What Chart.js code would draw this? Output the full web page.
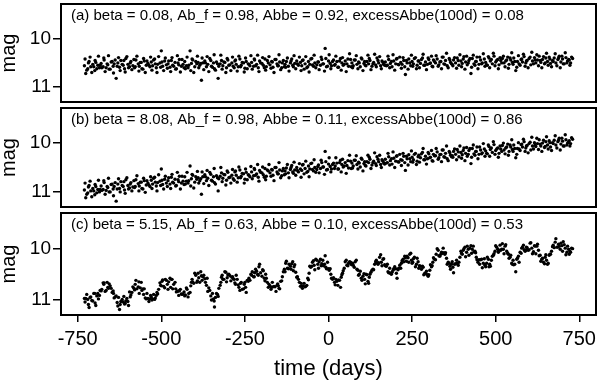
<!DOCTYPE html>
<html>
<head>
<meta charset="utf-8">
<script src="https://cdn.jsdelivr.net/npm/chart.js"></script>
<style>
  body { margin: 0; background: #fff; }
  #wrap { position: relative; width: 600px; height: 384px; }
  canvas { position: absolute; left: 0; }
</style>
</head>
<body>
<div id="wrap">
  <canvas id="pa" width="600" height="106" style="top:0px"></canvas>
  <canvas id="pb" width="600" height="107" style="top:104px"></canvas>
  <canvas id="pc" width="600" height="175" style="top:209px"></canvas>
</div>
<script>
// observation times (days), first run of nights
var days = [
-730,-726,-720,-716,-711,-705,-699,-696,-690,-685,
-680,-674,-671,-665,-660,-656,-650,-644,-641,-635,
-630,-625,-621,-614,-610,-606,-600,-595,-591,-585,
-580,-576,-569,-566,-560,-555,-551,-545,-540,-534,
-530,-526,-520,-515,-511,-504,-500,-496,-490,-485,
-480,-474,-470,-466,-459,-455,-450,-446,-440,-435,
-430,-425,-420,-414,-410,-406,-400,-394,-390,-385,
-380,-376,-370,-365,-361,-355,-350,-344,-341,-335,
-330,-324,-320,-316,-310,-305,-301,-295,-289,-285,
-280,-276,-270,-265,-261,-254,-250,-246,-240,-235,
-230,-224,-221,-215,-210,-206,-199,-195,-190,-186,
-180,-175,-170,-166,-160,-154,-150,-146,-140,-135,
-130,-126,-120,-114,-110,-105,-101,-95,-90,-84,
-80,-76,-70,-65,-60,-56,-50,-45,-41,-35,
-30,-24,-20,-15,-10,-6,0,5,9,15,
20,25,30,36,40,44,50,55,60,66,
70,74,80,85,90,95,100,106,110,115,
120,124,130,135,141,145,150,156,160,165,
170,176,180,185,190,195,201,205,210,216,
220,225,230,235,240,246,250,254,260,265,
270,275,281,285,290,296,300,305,310,314,
320,325,330,336,340,345,350,355,361,365,
370,374,380,385,390,396,400,405,410,415,
420,426,430,435,440,444,450,455,460,466,
470,475,480,484,490,495,500,506,510,515,
520,525,530,536,540,545,550,554,560,565,
570,576,580,585,590,594,600,605,610,616,
620,625,630,635,640,646,650,655,660,664,
670,675,680,686,690,695,700,705,710,715,
720,724,730];

// observation times (days), second run of nights
var days2 = [
-728,-723,-718,-713,-708,-702,-698,-693,-688,-683,
-678,-672,-668,-662,-658,-653,-647,-643,-638,-632,
-628,-623,-617,-612,-608,-603,-598,-593,-588,-582,
-578,-573,-567,-563,-558,-553,-548,-543,-537,-532,
-528,-523,-518,-513,-508,-502,-498,-493,-488,-482,
-478,-472,-468,-463,-457,-452,-448,-443,-438,-432,
-428,-423,-418,-412,-408,-403,-397,-392,-388,-382,
-378,-373,-368,-363,-358,-352,-347,-342,-338,-332,
-328,-322,-318,-313,-307,-303,-298,-292,-287,-282,
-278,-273,-268,-263,-258,-252,-248,-243,-238,-232,
-228,-222,-218,-212,-208,-203,-197,-192,-188,-183,
-178,-172,-168,-163,-157,-152,-148,-143,-138,-132,
-128,-123,-118,-112,-107,-103,-98,-93,-87,-82,
-78,-73,-68,-62,-58,-53,-48,-43,-38,-32,
-28,-22,-17,-12,-8,-3,2,7,12,18,
22,28,33,38,42,47,53,58,63,68,
72,77,83,88,92,98,103,108,112,118,
122,127,133,138,143,148,153,158,163,168,
173,178,183,188,193,198,203,208,213,218,
223,228,233,238,243,248,252,257,263,268,
272,278,283,288,293,298,303,308,312,317,
322,328,333,338,343,348,353,358,363,368,
372,377,383,388,393,398,403,408,413,418,
423,428,433,438,442,447,452,458,463,468,
473,478,482,487,493,498,503,508,513,518,
523,528,533,538,543,548,552,557,563,568,
573,578,583,588,592,597,603,608,613,618,
623,628,633,638,643,648,652,657,662,667,
672,678,683,688,693,698,702,708,713,718,
722,727];

// (a) flat light curve
var magA = [
10.56,10.72,10.62,10.47,10.58,10.53,10.66,10.49,10.55,10.6,
10.51,10.58,10.44,10.6,10.54,10.63,10.48,10.57,10.52,10.82,
10.5,10.59,10.45,10.55,10.62,10.41,10.53,10.58,10.47,10.56,
10.6,10.44,10.52,10.57,10.49,10.63,10.46,10.55,10.51,10.58,
10.48,10.56,10.42,10.6,10.53,10.5,10.25,10.57,10.46,10.54,
10.52,10.59,10.45,10.55,10.49,10.62,10.5,10.43,10.57,10.53,
10.47,10.56,10.6,10.25,10.51,10.44,10.58,10.52,10.49,10.55,
10.86,10.5,10.46,10.58,10.53,10.41,10.57,10.5,10.62,10.48,
10.82,10.52,10.45,10.56,10.49,10.6,10.44,10.54,10.5,10.57,
10.46,10.53,10.58,10.42,10.55,10.5,10.61,10.47,10.52,10.56,
10.49,10.57,10.44,10.53,10.6,10.46,10.51,10.55,10.42,10.58,
10.5,10.54,10.47,10.59,10.43,10.52,10.56,10.48,10.6,10.45,
10.53,10.47,10.57,10.5,10.42,10.58,10.51,10.46,10.55,10.49,
10.56,10.44,10.52,10.6,10.47,10.53,10.41,10.57,10.5,10.54,
10.48,10.55,10.43,10.52,10.2,10.58,10.46,10.51,10.56,10.44,
10.53,10.47,10.59,10.41,10.5,10.55,10.46,10.52,10.57,10.43,
10.5,10.56,10.44,10.53,10.48,10.58,10.42,10.51,10.55,10.47,
10.52,10.45,10.57,10.49,10.54,10.4,10.5,10.56,10.46,10.53,
10.48,10.55,10.43,10.51,10.58,10.46,10.52,10.41,10.54,10.49,
10.53,10.45,10.74,10.5,10.42,10.56,10.47,10.52,10.39,10.55,
10.46,10.51,10.4,10.55,10.48,10.53,10.43,10.5,10.57,10.44,
10.5,10.42,10.54,10.47,10.38,10.52,10.45,10.56,10.41,10.49,
10.53,10.44,10.5,10.4,10.55,10.46,10.51,10.37,10.48,10.54,
10.45,10.72,10.41,10.52,10.47,10.38,10.53,10.44,10.5,10.42,
10.49,10.55,10.4,10.46,10.52,10.36,10.48,10.43,10.54,10.45,
10.41,10.5,10.46,10.38,10.53,10.44,10.49,10.4,10.66,10.47,
10.52,10.43,10.48,10.37,10.5,10.45,10.41,10.54,10.46,10.39,
10.5,10.44,10.36,10.49,10.43,10.52,10.4,10.47,10.38,10.51,
10.45,10.4,10.5,10.43,10.36,10.48,10.42,10.52,10.39,10.46,
10.44,10.5,10.41];
var magA2 = [
10.42,10.65,10.5,10.38,10.7,10.58,10.45,10.62,10.36,10.55,
10.6,10.4,10.68,10.52,10.35,10.63,10.47,10.71,10.44,10.57,
10.39,10.66,10.53,10.45,10.69,10.37,10.6,10.5,10.64,10.43,
10.58,10.36,10.67,10.49,10.62,10.41,10.7,10.46,10.55,10.38,
10.65,10.44,10.52,10.7,10.37,10.59,10.48,10.66,10.4,10.61,
10.46,10.68,10.39,10.57,10.63,10.35,10.54,10.69,10.43,10.6,
10.62,10.38,10.55,10.66,10.42,10.7,10.47,10.36,10.6,10.51,
10.4,10.64,10.5,10.37,10.68,10.45,10.59,10.33,10.65,10.52,
10.57,10.34,10.63,10.48,10.7,10.41,10.55,10.66,10.38,10.6,
10.44,10.67,10.36,10.58,10.49,10.69,10.4,10.62,10.53,10.35,
10.63,10.42,10.56,10.34,10.68,10.5,10.39,10.6,10.65,10.45,
10.37,10.61,10.48,10.7,10.43,10.56,10.33,10.64,10.5,10.58,
10.59,10.4,10.67,10.46,10.55,10.35,10.62,10.52,10.38,10.66,
10.45,10.63,10.37,10.58,10.69,10.42,10.54,10.34,10.6,10.48,
10.64,10.38,10.52,10.67,10.41,10.57,10.33,10.62,10.47,10.55,
10.36,10.59,10.46,10.65,10.39,10.53,10.68,10.42,10.31,10.58,
10.6,10.44,10.35,10.62,10.5,10.4,10.66,10.47,10.56,10.34,
10.41,10.64,10.52,10.32,10.58,10.45,10.37,10.62,10.49,10.55,
10.56,10.36,10.6,10.47,10.33,10.65,10.42,10.53,10.38,10.61,
10.39,10.58,10.45,10.63,10.5,10.34,10.57,10.41,10.62,10.46,
10.6,10.43,10.32,10.55,10.64,10.4,10.51,10.36,10.58,10.47,
10.35,10.57,10.48,10.62,10.38,10.53,10.3,10.6,10.44,10.52,
10.56,10.39,10.61,10.45,10.33,10.58,10.42,10.63,10.36,10.5,
10.41,10.59,10.34,10.55,10.47,10.62,10.38,10.52,10.31,10.57,
10.54,10.37,10.6,10.43,10.3,10.56,10.45,10.62,10.39,10.5,
10.36,10.58,10.44,10.61,10.4,10.29,10.53,10.47,10.59,10.35,
10.55,10.42,10.32,10.57,10.46,10.6,10.38,10.28,10.52,10.44,
10.33,10.56,10.45,10.6,10.37,10.5,10.3,10.55,10.42,10.58,
10.47,10.31,10.56,10.4,10.6,10.36,10.52,10.29,10.5,10.43,
10.55,10.38];

// (b) steady brightening
var magB = [
10.96,11.12,11.02,10.87,10.98,10.93,11.06,10.89,10.95,11.0,
10.88,10.95,10.81,10.97,10.91,11.0,10.85,10.94,10.89,11.19,
10.84,10.93,10.79,10.89,10.96,10.75,10.87,10.92,10.81,10.9,
10.91,10.75,10.83,10.88,10.8,10.94,10.77,10.86,10.82,10.89,
10.76,10.84,10.7,10.88,10.81,10.78,10.53,10.85,10.74,10.82,
10.77,10.84,10.7,10.8,10.74,10.87,10.75,10.68,10.82,10.78,
10.69,10.78,10.82,10.47,10.73,10.66,10.8,10.74,10.71,10.77,
11.05,10.69,10.65,10.77,10.72,10.6,10.76,10.69,10.81,10.67,
10.98,10.68,10.61,10.72,10.65,10.76,10.6,10.7,10.66,10.73,
10.59,10.66,10.71,10.55,10.68,10.63,10.74,10.6,10.65,10.69,
10.59,10.67,10.54,10.63,10.7,10.56,10.61,10.65,10.52,10.68,
10.57,10.61,10.54,10.66,10.5,10.59,10.63,10.55,10.67,10.52,
10.57,10.51,10.61,10.54,10.46,10.62,10.55,10.5,10.59,10.53,
10.56,10.44,10.52,10.6,10.47,10.53,10.41,10.57,10.5,10.54,
10.45,10.52,10.4,10.49,10.17,10.55,10.43,10.48,10.53,10.41,
10.47,10.41,10.53,10.35,10.44,10.49,10.4,10.46,10.51,10.37,
10.41,10.47,10.35,10.44,10.39,10.49,10.33,10.42,10.46,10.38,
10.4,10.33,10.45,10.37,10.42,10.28,10.38,10.44,10.34,10.41,
10.33,10.4,10.28,10.36,10.43,10.31,10.37,10.26,10.39,10.34,
10.35,10.27,10.56,10.32,10.24,10.38,10.29,10.34,10.21,10.37,
10.25,10.3,10.19,10.34,10.27,10.32,10.22,10.29,10.36,10.23,
10.26,10.18,10.3,10.23,10.14,10.28,10.21,10.32,10.17,10.25,
10.26,10.17,10.23,10.13,10.28,10.19,10.24,10.1,10.21,10.27,
10.15,10.42,10.11,10.22,10.17,10.08,10.23,10.14,10.2,10.12,
10.16,10.22,10.07,10.13,10.19,10.03,10.15,10.1,10.21,10.12,
10.05,10.14,10.1,10.02,10.17,10.08,10.13,10.04,10.3,10.11,
10.12,10.03,10.08,9.97,10.1,10.05,10.01,10.14,10.06,9.99,
10.07,10.01,9.93,10.06,10.0,10.09,9.97,10.04,9.95,10.08,
9.99,9.94,10.04,9.97,9.9,10.02,9.96,10.06,9.93,10.0,
9.95,10.01,9.92];
var magB2 = [
10.82,11.05,10.9,10.78,11.1,10.98,10.85,11.02,10.76,10.95,
10.97,10.77,11.05,10.89,10.72,11.0,10.84,11.08,10.81,10.94,
10.73,11.0,10.87,10.79,11.03,10.71,10.94,10.84,10.98,10.77,
10.89,10.67,10.98,10.8,10.93,10.72,11.01,10.77,10.86,10.69,
10.93,10.72,10.8,10.98,10.65,10.87,10.76,10.94,10.68,10.89,
10.71,10.93,10.64,10.82,10.88,10.6,10.79,10.94,10.68,10.85,
10.84,10.6,10.77,10.88,10.64,10.92,10.69,10.58,10.82,10.73,
10.59,10.83,10.69,10.56,10.87,10.64,10.78,10.52,10.84,10.71,
10.73,10.5,10.79,10.64,10.86,10.57,10.71,10.82,10.54,10.76,
10.57,10.8,10.49,10.71,10.62,10.82,10.53,10.75,10.66,10.48,
10.73,10.52,10.66,10.44,10.78,10.6,10.49,10.7,10.75,10.55,
10.44,10.68,10.55,10.77,10.5,10.63,10.4,10.71,10.57,10.65,
10.63,10.44,10.71,10.5,10.59,10.39,10.66,10.56,10.42,10.7,
10.45,10.63,10.37,10.58,10.69,10.42,10.54,10.34,10.6,10.48,
10.61,10.35,10.49,10.64,10.38,10.54,10.3,10.59,10.44,10.52,
10.3,10.53,10.4,10.59,10.33,10.47,10.62,10.36,10.25,10.52,
10.51,10.35,10.26,10.53,10.41,10.31,10.57,10.38,10.47,10.25,
10.29,10.52,10.4,10.2,10.46,10.33,10.25,10.5,10.37,10.43,
10.41,10.21,10.45,10.32,10.18,10.5,10.27,10.38,10.23,10.46,
10.21,10.4,10.27,10.45,10.32,10.16,10.39,10.23,10.44,10.28,
10.39,10.22,10.11,10.34,10.43,10.19,10.3,10.15,10.37,10.26,
10.11,10.33,10.24,10.38,10.14,10.29,10.06,10.36,10.2,10.28,
10.29,10.12,10.34,10.18,10.06,10.31,10.15,10.36,10.09,10.23,
10.11,10.29,10.04,10.25,10.17,10.32,10.08,10.22,10.01,10.27,
10.21,10.04,10.27,10.1,9.97,10.23,10.12,10.29,10.06,10.17,
10.0,10.22,10.08,10.25,10.04,9.93,10.17,10.11,10.23,9.99,
10.15,10.02,9.92,10.17,10.06,10.2,9.98,9.88,10.12,10.04,
9.9,10.13,10.02,10.17,9.94,10.07,9.87,10.12,9.99,10.15,
10.01,9.85,10.1,9.94,10.14,9.9,10.06,9.83,10.04,9.97,
10.06,9.89];

// (c) brightening with quasi-periodic wiggles
var magC = [
10.98,10.98,11.0,11.16,10.95,11.03,10.88,11.12,10.88,10.92,
10.83,10.67,10.67,10.82,10.76,10.69,10.78,10.83,10.97,10.93,
11.13,11.2,11.04,11.05,11.09,11.03,11.04,10.85,10.91,10.75,
10.81,10.62,10.75,10.88,10.66,10.79,10.79,10.99,10.98,10.99,
10.95,10.99,11.0,10.92,10.89,10.67,10.73,10.61,10.77,10.62,
10.8,10.58,10.6,10.79,10.66,10.85,10.83,10.83,10.89,10.89,
10.93,10.77,10.95,10.86,10.66,10.65,10.48,10.66,10.48,10.66,
10.53,10.55,10.59,10.72,10.84,10.82,11.01,10.99,11.15,10.88,
10.94,10.72,10.56,10.6,10.45,10.65,10.51,10.53,10.56,10.59,
10.67,10.52,10.71,10.82,10.66,10.79,10.66,10.86,10.64,10.62,
10.52,10.55,10.47,10.44,10.52,10.3,10.54,10.43,10.63,10.58,
10.76,10.73,10.76,10.75,10.75,10.72,10.73,10.79,10.63,10.45,
10.45,10.24,10.39,10.34,10.29,10.43,10.31,10.56,10.6,10.74,
10.73,10.73,10.75,10.72,10.61,10.34,10.34,10.23,10.41,10.22,
10.38,10.2,10.29,10.33,10.13,10.39,10.39,10.39,10.58,10.57,
10.71,10.64,10.61,10.76,10.51,10.43,10.25,10.32,10.28,10.26,
10.31,10.32,10.25,10.4,10.52,10.44,10.62,10.49,10.69,10.51,
10.68,10.5,10.42,10.41,10.25,10.27,10.27,10.11,10.33,10.19,
10.33,10.3,10.47,10.48,10.46,10.39,10.39,10.58,10.38,10.38,
10.23,10.25,10.17,10.14,10.26,10.08,10.28,10.19,10.35,10.18,
10.38,10.34,10.34,10.51,10.49,10.51,10.51,10.31,10.33,10.17,
10.21,9.99,10.13,10.1,10.08,10.07,10.07,10.3,10.28,10.4,
10.25,10.47,10.29,10.28,10.26,10.04,10.1,9.99,10.15,9.94,
10.12,9.93,10.0,10.05,10.07,10.21,10.21,10.21,10.37,10.19,
10.35,10.16,10.35,10.34,10.14,10.09,9.93,10.0,10.02,10.02,
9.89,10.09,9.91,10.08,10.18,10.12,10.3,10.31,10.45,10.18,
10.26,10.08,9.96,10.01,10.02,9.97,10.01,9.87,10.09,9.93,
10.09,9.9,10.13,10.24,10.18,10.29,10.11,10.3,10.12,10.1,
9.95,9.97,9.79,9.96,9.94,9.88,10.04,9.91,10.11,9.94,
10.1,10.06,9.99];
var magC2 = [
11.05,10.9,11.1,10.96,11.02,10.88,11.07,10.93,10.99,10.82,
10.8,10.7,10.84,10.66,10.78,10.73,10.86,10.88,10.95,11.06,
10.96,11.1,11.0,10.94,11.08,10.98,11.12,10.95,10.86,10.78,
10.7,10.79,10.65,10.77,10.82,10.9,10.97,10.88,11.04,10.92,
11.01,10.9,10.97,10.86,10.8,10.72,10.64,10.74,10.6,10.7,
10.65,10.76,10.6,10.7,10.79,10.84,10.92,10.8,10.9,10.85,
10.91,10.8,10.88,10.73,10.6,10.68,10.52,10.63,10.57,10.45,
10.62,10.52,10.66,10.58,10.77,10.93,10.88,11.03,10.96,10.9,
10.78,10.66,10.52,10.6,10.46,10.57,10.5,10.63,10.55,10.6,
10.7,10.6,10.76,10.68,10.8,10.7,10.76,10.62,10.58,10.5,
10.45,10.55,10.4,10.5,10.35,10.47,10.41,10.58,10.5,10.66,
10.7,10.8,10.66,10.74,10.84,10.69,10.78,10.64,10.55,10.4,
10.28,10.38,10.3,10.4,10.25,10.35,10.46,10.55,10.66,10.68,
10.78,10.68,10.74,10.58,10.48,10.36,10.26,10.32,10.2,10.3,
10.25,10.33,10.22,10.3,10.36,10.26,10.42,10.5,10.6,10.66,
10.6,10.72,10.62,10.56,10.48,10.38,10.22,10.33,10.25,10.3,
10.28,10.36,10.22,10.42,10.5,10.58,10.54,10.6,10.5,10.64,
10.56,10.46,10.4,10.3,10.22,10.3,10.16,10.26,10.2,10.31,
10.34,10.45,10.38,10.5,10.42,10.35,10.48,10.41,10.32,10.28,
10.2,10.14,10.24,10.17,10.1,10.22,10.26,10.16,10.3,10.25,
10.33,10.4,10.36,10.48,10.44,10.54,10.42,10.35,10.26,10.2,
10.1,10.02,10.14,10.06,9.98,10.1,10.18,10.26,10.34,10.3,
10.36,10.3,10.22,10.32,10.16,10.08,10.02,9.96,10.06,10.0,
9.98,10.08,9.94,10.04,10.16,10.26,10.3,10.2,10.28,10.32,
10.28,10.2,10.3,10.22,10.12,10.04,9.96,10.06,9.92,10.0,
10.0,9.94,10.04,10.1,10.16,10.28,10.22,10.3,10.2,10.14,
10.06,9.98,9.92,10.04,9.96,10.02,9.88,9.98,10.05,9.94,
9.94,10.02,10.12,10.2,10.26,10.16,10.22,10.28,10.1,10.04,
9.92,9.86,9.96,9.9,10.0,9.93,9.85,9.98,10.06,10.0,
10.04,9.98];

var panelLabels = [
  "(a) beta = 0.08, Ab_f = 0.98, Abbe = 0.92, excessAbbe(100d) = 0.08",
  "(b) beta = 8.08, Ab_f = 0.98, Abbe = 0.11, excessAbbe(100d) = 0.86",
  "(c) beta = 5.15, Ab_f = 0.63, Abbe = 0.10, excessAbbe(100d) = 0.53"
];
var magTicks = [10, 11];
var dayTicks = [-750, -500, -250, 0, 250, 500, 750];

var FONT = "'Liberation Sans', Arial, Helvetica, sans-serif";

// frame around the plot area + the panel caption inside it
var framePlugin = {
  id: "frame",
  afterDatasetsDraw: function (chart, args, opts) {
    var a = chart.chartArea, ctx = chart.ctx;
    ctx.save();
    ctx.strokeStyle = "#000";
    ctx.lineWidth = 2;
    ctx.strokeRect(a.left, a.top, a.right - a.left, a.bottom - a.top);
    ctx.fillStyle = "#000";
    ctx.font = "15px " + FONT;
    ctx.textBaseline = "alphabetic";
    ctx.fillText(opts.text, a.left + 10, a.top + 16);
    ctx.restore();
  }
};

function toPoints(t, m) {
  var pts = [];
  for (var i = 0; i < t.length; i++) {
    pts.push({ x: t[i], y: m[i] });
  }
  return pts;
}

function makePanel(id, mags, mags2, label, bottom) {
  return new Chart(document.getElementById(id), {
    type: "scatter",
    data: {
      datasets: [
        { data: toPoints(days, mags), backgroundColor: "#000", borderWidth: 0, pointRadius: 1.7 },
        { data: toPoints(days2, mags2), backgroundColor: "#000", borderWidth: 0, pointRadius: 1.7 }
      ]
    },
    plugins: [framePlugin],
    options: {
      responsive: false,
      animation: false,
      layout: { padding: { top: id == "pa" ? 3 : 1, right: 3, bottom: bottom ? 0 : 1, left: 0 } },
      plugins: {
        legend: { display: false },
        tooltip: { enabled: false },
        frame: { text: label }
      },
      scales: {
        x: {
          type: "linear",
          display: bottom,
          min: -800,
          max: 800,
          afterBuildTicks: function (s) { s.ticks = dayTicks.map(function (v) { return { value: v }; }); },
          afterFit: function (s) {
            if (bottom) s.height = 69;
            s.paddingLeft = 0; s.paddingRight = 0;
          },
          grid: { drawOnChartArea: false, drawTicks: true, tickLength: 7, color: "#000", lineWidth: 1.5 },
          border: { display: false },
          ticks: {
            color: "#000", padding: 5, maxRotation: 0,
            font: { family: FONT, size: 20 },
            callback: function (v) { return String(v); }
          },
          title: {
            display: true, text: "time (days)", color: "#000",
            font: { family: FONT, size: 22 }, padding: 2
          }
        },
        y: {
          type: "linear",
          reverse: true,
          min: 9.28,
          max: 11.31,
          afterBuildTicks: function (s) { s.ticks = magTicks.map(function (v) { return { value: v }; }); },
          afterFit: function (s) {
            s.width = 61;
            s.paddingTop = 0; s.paddingBottom = 0;
          },
          grid: { drawOnChartArea: false, drawTicks: true, tickLength: 8, color: "#000", lineWidth: 1.5 },
          border: { display: false },
          ticks: {
            color: "#000", padding: 2,
            font: { family: FONT, size: 19 },
            callback: function (v) { return String(v); }
          },
          title: {
            display: true, text: "mag", color: "#000",
            font: { family: FONT, size: 20, lineHeight: 0.9 }, padding: 0
          }
        }
      }
    }
  });
}

makePanel("pa", magA, magA2, panelLabels[0], false);
makePanel("pb", magB, magB2, panelLabels[1], false);
makePanel("pc", magC, magC2, panelLabels[2], true);
</script>
</body>
</html>
